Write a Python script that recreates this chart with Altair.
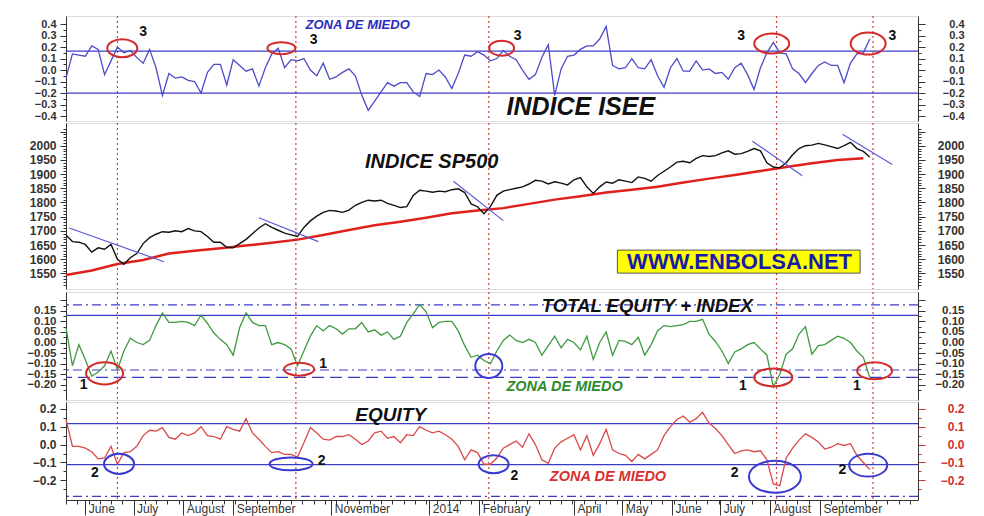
import altair as alt
import pandas as pd

FONT = "Liberation Sans"

# ---------------- data ----------------
START = "2013-05-20"
STEP_DAYS = 4

isee = [
    -0.07, 0.14, 0.13, 0.12, 0.21, 0.18, -0.04, 0.08, 0.20, 0.15,
    0.17, 0.11, 0.06, 0.18, 0.02, -0.22, -0.03, -0.07, -0.06, -0.09,
    -0.10, -0.20, -0.02, 0.05, 0.05, -0.13, 0.09, 0.04, -0.01, 0.01,
    -0.14, 0.02, 0.14, 0.19, 0.02, 0.09, 0.08, 0.10, 0.00, -0.05,
    0.06, -0.08, -0.06, -0.02, 0.01, -0.05, -0.22, -0.35, -0.27, -0.19,
    -0.11, -0.14, -0.11, -0.11, -0.19, -0.23, -0.03, -0.04, 0.00, -0.06,
    -0.16, -0.03, 0.13, 0.12, 0.16, 0.13, 0.08, 0.10, 0.17, 0.12,
    0.09, 0.00, -0.08, -0.04, 0.11, 0.22, -0.22, 0.01, 0.12, 0.13,
    0.18, 0.21, 0.21, 0.27, 0.38, 0.04, 0.01, 0.02, 0.10, 0.02,
    0.01, 0.09, -0.05, -0.15, 0.02, 0.10, -0.01, -0.01, 0.08, 0.00,
    0.01, -0.03, -0.02, -0.08, 0.02, 0.06, -0.04, -0.17, 0.02, 0.15,
    0.24, 0.15, 0.14, 0.01, -0.03, -0.11, -0.03, 0.04, 0.07, 0.04,
    0.04, -0.11, 0.06, 0.14, 0.15, 0.27,
]

sp500 = [
    1685, 1662, 1660, 1652, 1625, 1640, 1635, 1652, 1600, 1582,
    1605, 1620, 1655, 1676, 1688, 1697, 1695, 1700, 1697, 1708,
    1700, 1697, 1680, 1660, 1660, 1642, 1640, 1655, 1670, 1690,
    1710, 1725, 1712, 1702, 1692, 1686, 1680, 1712, 1735, 1752,
    1765, 1772, 1770, 1765, 1773, 1790, 1800, 1808, 1805, 1808,
    1797, 1790, 1782, 1785, 1825, 1843, 1840, 1836, 1840, 1838,
    1845, 1848, 1835, 1795, 1785, 1760, 1785, 1825, 1840, 1845,
    1850, 1855, 1865, 1878, 1875, 1865, 1873, 1868, 1862, 1880,
    1888, 1855, 1832, 1855, 1872, 1868, 1880, 1875, 1870, 1890,
    1885, 1875, 1895, 1910, 1925, 1942, 1945, 1940, 1955, 1965,
    1962, 1965, 1975, 1982, 1970, 1972, 1980, 1990, 1982, 1940,
    1925, 1922, 1940, 1968, 1990, 2000, 2002, 2008, 2003, 1997,
    1990, 2000, 2012, 1990, 1980, 1960,
]

MA_STEP_DAYS = 16
sp500_ma = [
    1544, 1560, 1583, 1597, 1620, 1630, 1639, 1648, 1658, 1669,
    1685, 1703, 1720, 1732, 1746, 1762, 1772, 1780, 1795, 1810,
    1822, 1835, 1845, 1855, 1870, 1884, 1897, 1911, 1925, 1938,
    1950, 1956,
]

total_equity_index = [
    0.07, -0.11, -0.01, -0.08, -0.16, -0.14, -0.11, -0.04, -0.13, -0.04,
    0.02, 0.00, -0.01, 0.01, 0.08, 0.14, 0.095, 0.095, 0.10, 0.095,
    0.08, 0.13, 0.09, 0.045, 0.015, -0.01, -0.06, 0.07, 0.14, 0.095,
    0.08, 0.08, -0.01, 0.00, -0.01, -0.03, -0.11, -0.04, 0.03, 0.08,
    0.055, 0.08, 0.065, 0.04, 0.065, 0.065, 0.095, 0.05, 0.06, 0.035,
    0.05, 0.015, 0.03, 0.095, 0.135, 0.18, 0.145, 0.07, 0.095, 0.10,
    0.10, 0.055, -0.015, -0.07, -0.06, -0.085, -0.10, -0.04, 0.01, 0.035,
    0.01, 0.00, 0.015, 0.00, -0.06, -0.015, 0.03, -0.025, 0.015, 0.00,
    -0.035, 0.03, -0.08, 0.00, 0.05, -0.06, 0.01, 0.005, -0.01, 0.025,
    -0.06, -0.01, 0.055, 0.08, 0.075, 0.08, 0.085, 0.10, 0.10, 0.11,
    0.04, 0.005, -0.04, -0.10, -0.045, -0.03, -0.01, 0.00, -0.03, -0.06,
    -0.21, -0.15, -0.055, -0.03, 0.04, 0.075, -0.055, -0.015, -0.01, 0.01,
    0.03, 0.02, 0.00, -0.04, -0.07, -0.165,
]

equity = [
    0.14, -0.01, -0.01, -0.02, -0.04, -0.08, -0.075, -0.01, -0.11, -0.045,
    -0.04, -0.01, 0.05, 0.08, 0.075, 0.095, 0.04, 0.03, 0.065, 0.05,
    0.065, 0.10, 0.05, 0.045, 0.03, 0.10, 0.085, 0.075, 0.145, 0.065,
    0.03, -0.01, -0.045, -0.04, -0.055, -0.055, -0.07, 0.01, 0.095, 0.065,
    0.03, 0.025, 0.045, 0.045, 0.055, 0.03, 0.00, 0.02, 0.065, 0.075,
    0.035, 0.045, 0.01, 0.055, 0.05, 0.10, 0.08, 0.065, 0.075, 0.055,
    0.03, -0.01, -0.085, -0.03, -0.045, -0.11, -0.11, -0.075, -0.02, 0.00,
    0.02, -0.015, 0.06, 0.00, -0.085, -0.105, -0.02, 0.015, 0.035, 0.055,
    -0.03, 0.05, -0.06, 0.005, 0.085, -0.03, -0.05, -0.06, -0.095, -0.055,
    -0.08, -0.055, -0.03, 0.05, 0.10, 0.14, 0.16, 0.125, 0.145, 0.18,
    0.12, 0.09, 0.05, 0.00, -0.05, -0.035, -0.03, -0.04, -0.035, -0.085,
    -0.22, -0.23, -0.075, -0.02, 0.025, 0.06, 0.04, 0.015, -0.025, -0.015,
    0.005, -0.005, 0.005, -0.06, -0.10, -0.14,
]

signal_dates = ["2013-06-21", "2013-10-10", "2014-02-07", "2014-08-05", "2014-10-04"]

# S&P 500 down-trend lines
trend_start = ["2013-05-22", "2013-09-17", "2014-01-16", "2014-07-21", "2014-09-15"]
trend_end = ["2013-07-20", "2013-10-24", "2014-02-16", "2014-08-21", "2014-10-16"]
trend_v0 = [1710, 1746, 1875, 2016, 2040]
trend_v1 = [1591, 1662, 1736, 1894, 1934]

# reference levels
isee_levels = [0.165, -0.20]
tei_solid = [0.128]
tei_dashdot = [0.178, -0.13]
tei_dashed = [-0.165]
eq_solid = [0.117, -0.112]
eq_dashdot = [-0.29]

# circled zones (centre date, value) and their marks
isee_circ_date = ["2013-06-24", "2013-10-01", "2014-02-15", "2014-08-02", "2014-10-01"]
isee_circ_val = [0.19, 0.19, 0.19, 0.23, 0.23]
isee_mark_date = ["2013-07-07", "2013-10-21", "2014-02-25", "2014-07-14", "2014-10-16"]
isee_mark_val = [0.33, 0.265, 0.30, 0.30, 0.30]
isee_mark_txt = ["3", "3", "3", "3", "3"]

tei_circ_date = ["2013-06-13", "2013-10-12", "2014-02-07", "2014-08-03", "2014-10-05"]
tei_circ_val = [-0.146, -0.126, -0.111, -0.165, -0.134]
tei_mark_date = ["2013-05-31", "2013-10-27", "2014-07-15", "2014-09-24"]
tei_mark_val = [-0.20, -0.10, -0.205, -0.205]
tei_mark_txt = ["1", "1", "1", "1"]

eq_circ_date = ["2013-06-22", "2013-10-07", "2014-02-10", "2014-08-04", "2014-10-01"]
eq_circ_val = [-0.108, -0.108, -0.11, -0.18, -0.115]
eq_mark_date = ["2013-06-07", "2013-10-26", "2014-02-23", "2014-07-10", "2014-09-15"]
eq_mark_val = [-0.16, -0.09, -0.178, -0.16, -0.14]
eq_mark_txt = ["2", "2", "2", "2", "2"]

month_labels = [(2013, 6), (2013, 7), (2013, 8), (2013, 9), (2013, 11), (2014, 1),
                (2014, 2), (2014, 4), (2014, 5), (2014, 6), (2014, 7), (2014, 8), (2014, 9)]

# ---------------- styling (not data) ----------------
W = 852
H1, H2, H3, H4 = 105, 166, 108, 98
DOM1 = [-0.443, 0.47]
DOM2 = [1495, 2080]
DOM3 = [-0.272, 0.239]
DOM4 = [-0.31, 0.238]
XDOM = [alt.DateTime(year=2013, month=5, date=20), alt.DateTime(year=2014, month=11, date=1)]

RED = "#d42a2a"
BLUE = "#3a3ad0"
# circle shapes: (width px, height px, colour)
isee_circ_style = [(30, 18, RED), (28, 12, RED), (25, 15, RED), (35, 20, RED), (35, 22, RED)]
tei_circ_style = [(37, 22, RED), (30, 13, RED), (27, 24, BLUE), (38, 18, RED), (35, 17, RED)]
eq_circ_style = [(30, 20, BLUE), (43, 13, BLUE), (30, 18, BLUE), (52, 32, BLUE), (38, 23, BLUE)]


def yaxis(orient, values, label_expr, major_test, color="#333333", size=12):
    right = orient == "right"
    return alt.Axis(
        orient=orient, values=values, labelExpr=label_expr, labelFont=FONT,
        labelFontSize=size, labelFontWeight="bold", labelColor=color,
        tickColor=color if right else "#333333", domainColor="#333333",
        tickSize={"condition": {"test": major_test, "value": 7 if right else 6},
                  "value": 3},
        labelAlign="right", labelPadding=39 if right else 4, grid=False,
        minExtent=48, maxExtent=48, title=None, labelOverlap=False, labelFlush=False)


tick_dates = sorted(set(
    [d.date() for d in pd.date_range("2013-05-20", "2014-10-27", freq="7D")]
    + [pd.Timestamp(year=y, month=m, day=1).date() for y, m in month_labels]))
xvals = [alt.DateTime(year=d.year, month=d.month, date=d.day) for d in tick_dates]
XAXIS = alt.Axis(
    values=xvals, labelFont=FONT, labelFontSize=12, labelColor="#333333",
    labelExpr="date(datum.value) == 1 ? (month(datum.value) == 0 ? timeFormat(datum.value, '%Y') : timeFormat(datum.value, '%B')) : ''",
    labelAlign="left", labelBaseline="top", labelOffset=3, labelPadding=-12,
    tickSize={"condition": {"test": "date(datum.value) == 1", "value": 15}, "value": 4},
    tickColor="#333333", domainColor="#333333", grid=False, labelOverlap=False,
    labelFlush=False, labelBound=False, title=None)


class Panel:
    def __init__(self, dom, yax, xax=None):
        self.dom, self.yax, self.xax = dom, yax, xax

    def X(self, field="date"):
        return alt.X(f"{field}:T", scale=alt.Scale(domain=XDOM), axis=self.xax, title=None)

    def Y(self, field, axis="same"):
        ax = self.yax if axis == "same" else axis
        return alt.Y(f"{field}:Q", scale=alt.Scale(domain=self.dom, nice=False, zero=False),
                     axis=ax, title=None)

    def hrules(self, vals, color="#3c3cc8", dash=None, width=1.2):
        kw = dict(color=color, strokeWidth=width)
        if dash:
            kw["strokeDash"] = dash
        return alt.Chart(pd.DataFrame({"v": vals})).mark_rule(**kw).encode(y=self.Y("v"))

    def vrules(self):
        df = pd.DataFrame({"date": pd.to_datetime(signal_dates)})
        return alt.Chart(df).mark_rule(color="#d23c3c", strokeDash=[2, 3], strokeWidth=1.2).encode(
            x=self.X())

    def circles(self, dates, vals, styles):
        paths, sizes, cols = [], [], []
        for w, h, c in styles:
            r = round(h / w, 3)
            paths.append(f"M-1,0A1,{r} 0 1,0 1,0A1,{r} 0 1,0 -1,0Z")
            sizes.append(w * w)
            cols.append(c)
        df = pd.DataFrame({"date": pd.to_datetime(dates), "v": vals, "p": paths, "s": sizes, "c": cols})
        return alt.Chart(df).mark_point(filled=False, strokeWidth=2, opacity=1).encode(
            x=self.X(), y=self.Y("v"),
            shape=alt.Shape("p:N", scale=None),
            size=alt.Size("s:Q", scale=None),
            color=alt.Color("c:N", scale=None),
        )

    def marks(self, dates, vals, txts):
        df = pd.DataFrame({"date": pd.to_datetime(dates), "v": vals, "t": txts})
        return alt.Chart(df).mark_text(font=FONT, fontSize=14, fontWeight="bold", color="#111").encode(
            x=self.X(), y=self.Y("v"), text="t:N")

    def label(self, text, date, val, **style):
        df = pd.DataFrame({"date": pd.to_datetime([date]), "v": [val], "t": [text]})
        st = dict(font=FONT, fontWeight="bold", fontStyle="italic", align="left", baseline="middle")
        st.update(style)
        return alt.Chart(df).mark_text(**st).encode(x=self.X(), y=self.Y("v"), text="t:N")

    def build(self, layers, field, right_axis, height):
        right = alt.Chart(main).mark_line(opacity=0).encode(x=self.X(), y=self.Y(field, right_axis))
        return alt.layer(alt.layer(*layers), right).resolve_scale(y="independent").properties(
            width=W, height=height)


dates = pd.date_range(START, periods=len(isee), freq=f"{STEP_DAYS}D")
main = pd.DataFrame({"date": dates, "isee": isee, "sp500": sp500,
                     "tei": total_equity_index, "equity": equity})
ma = pd.DataFrame({"date": pd.date_range(START, periods=len(sp500_ma), freq=f"{MA_STEP_DAYS}D"),
                   "ma": sp500_ma})
trends = pd.DataFrame({"d0": pd.to_datetime(trend_start), "d1": pd.to_datetime(trend_end),
                       "v0": trend_v0, "v1": trend_v1})

# ---- panel 1: ISEE ----
v1 = [round(i * 0.05, 2) for i in range(-8, 9)]
maj1 = "abs(round(datum.value * 20)) % 2 == 0"
lab1 = f"{maj1} ? format(datum.value, '.1f') : ''"
P = Panel(DOM1, yaxis("left", v1, lab1, maj1, size=11))
p1 = P.build([
    P.vrules(),
    P.hrules(isee_levels),
    alt.Chart(main).mark_line(color="#4b4bc8", strokeWidth=1.3).encode(x=P.X(), y=P.Y("isee")),
    P.circles(isee_circ_date, isee_circ_val, isee_circ_style),
    P.marks(isee_mark_date, isee_mark_val, isee_mark_txt),
    P.label("ZONA DE MIEDO", "2013-10-16", 0.39, fontSize=13, color="#2b2bc0"),
    P.label("INDICE ISEE", "2014-02-18", -0.32, fontSize=25, color="#111"),
], "isee", yaxis("right", v1, lab1, maj1, size=11), H1)

# ---- panel 2: S&P 500 ----
v2 = list(range(1510, 2061, 10))
maj2 = "datum.value % 50 == 0"
lab2 = "datum.value % 50 == 0 && datum.value >= 1550 && datum.value <= 2000 ? format(datum.value, 'd') : ''"
P = Panel(DOM2, yaxis("left", v2, lab2, maj2))
box = pd.DataFrame({"d0": pd.to_datetime(["2014-04-28"]), "d1": pd.to_datetime(["2014-09-26"]),
                    "v0": [1551], "v1": [1632]})
p2 = P.build([
    P.vrules(),
    alt.Chart(ma).mark_line(color="#e0201c", strokeWidth=2.5).encode(x=P.X(), y=P.Y("ma")),
    alt.Chart(main).mark_line(color="#111", strokeWidth=1.4).encode(x=P.X(), y=P.Y("sp500")),
    alt.Chart(trends).mark_rule(color="#5a5ad8", strokeWidth=1.2).encode(
        x=P.X("d0"), x2="d1", y=P.Y("v0"), y2="v1"),
    alt.Chart(box).mark_rect(fill="#ffff00", stroke="#555", strokeWidth=1).encode(
        x=P.X("d0"), x2="d1", y=P.Y("v0"), y2="v1"),
    P.label("INDICE SP500", "2013-11-22", 1941, fontSize=20, color="#111"),
    P.label("WWW.ENBOLSA.NET", "2014-07-13", 1591, fontSize=22, fontStyle="normal",
            align="center", color="#1a1aa8"),
], "sp500", yaxis("right", v2, lab2, maj2), H2)

# ---- panel 3: total equity + index ----
v3 = [round(i * 0.025, 3) for i in range(-9, 9)]
maj3 = "abs(round(datum.value * 40)) % 2 == 0"
lab3 = f"{maj3} && datum.value >= -0.2 && datum.value <= 0.15 ? format(datum.value, '.2f') : ''"
P = Panel(DOM3, yaxis("left", v3, lab3, maj3, size=11.5))
p3 = P.build([
    P.vrules(),
    P.hrules(tei_solid),
    P.hrules(tei_dashdot, dash=[9, 4, 2, 4]),
    P.hrules(tei_dashed, dash=[12, 6]),
    alt.Chart(main).mark_line(color="#3f9a3f", strokeWidth=1.3).encode(x=P.X(), y=P.Y("tei")),
    P.circles(tei_circ_date, tei_circ_val, tei_circ_style),
    P.marks(tei_mark_date, tei_mark_val, tei_mark_txt),
    P.label("TOTAL EQUITY + INDEX", "2014-03-12", 0.173, fontSize=18.5, color="#111"),
    P.label("ZONA DE MIEDO", "2014-02-18", -0.21, fontSize=14.5, color="#2e8b2e"),
], "tei", yaxis("right", v3, lab3, maj3, size=11.5), H3)

# ---- panel 4: equity ----
v4 = [round(i * 0.05, 2) for i in range(-5, 5)]
maj4 = "abs(round(datum.value * 20)) % 2 == 0"
lab4 = f"{maj4} && datum.value > -0.25 ? format(datum.value, '.1f') : ''"
P = Panel(DOM4, yaxis("left", v4, lab4, maj4), XAXIS)
p4 = P.build([
    P.vrules(),
    P.hrules(eq_solid),
    P.hrules(eq_dashdot, dash=[9, 4, 2, 4]),
    alt.Chart(main).mark_line(color="#d9484a", strokeWidth=1.3).encode(x=P.X(), y=P.Y("equity")),
    P.circles(eq_circ_date, eq_circ_val, eq_circ_style),
    P.marks(eq_mark_date, eq_mark_val, eq_mark_txt),
    P.label("EQUITY", "2013-12-08", 0.167, fontSize=19, align="center", color="#111"),
    P.label("ZONA DE MIEDO", "2014-03-17", -0.18, fontSize=14.5, color="#d83030"),
], "equity", yaxis("right", v4, lab4, maj4, color="#d03030"), H4)

chart = alt.vconcat(p1, p2, p3, p4, spacing=-5).properties(
    padding={"left": 9, "top": 6, "right": 8, "bottom": 0}
).configure_view(stroke="#8c8c8c", strokeWidth=1.5).configure(background="white")

chart.save("out.html", embed_options={"renderer": "svg", "actions": False})
